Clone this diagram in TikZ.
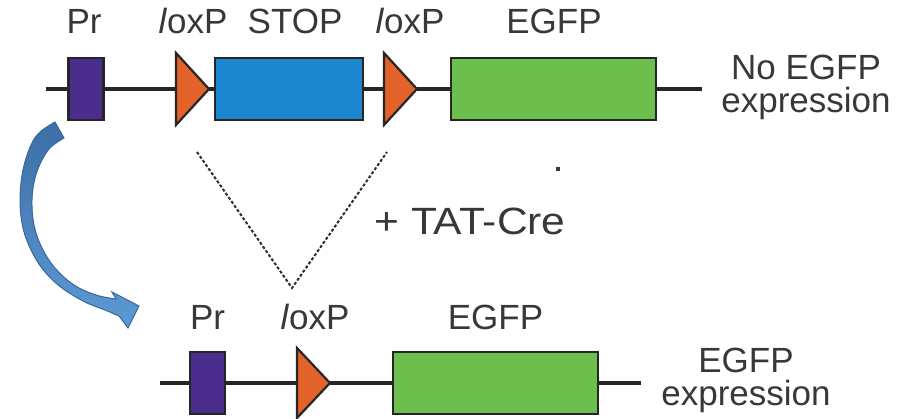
\documentclass[tikz,border=0pt]{standalone}
\usepackage{fontspec}
\setmainfont{Liberation Sans}
\usepackage{xcolor}
\usetikzlibrary{positioning}
\definecolor{ink}{HTML}{383838}
\definecolor{dnaline}{HTML}{262626}
\definecolor{promoter}{HTML}{4B2D8E}
\definecolor{loxorange}{HTML}{E2622A}
\definecolor{stopblue}{HTML}{1C87CF}
\definecolor{egfpgreen}{HTML}{6CBF4C}
\definecolor{arrowtop}{HTML}{3D6EA6}
\definecolor{arrowbot}{HTML}{5C9AD4}
\definecolor{arrowedge}{HTML}{3A679C}
\tikzset{
    dna/.style={draw=dnaline,line width=4.5pt},
    element/.style={draw=black!85,line width=2.6pt,inner sep=0pt,
      minimum height=62pt},
    prbox/.style={element,fill=promoter,minimum width=35pt},
    stopbox/.style={element,fill=stopblue,minimum width=148pt},
    genebox/.style={element,fill=egfpgreen,minimum width=205pt},
    loxsite/.style={draw=black!85,fill=loxorange,line width=2.2pt,line join=miter},
    lbl/.style={inner sep=0pt,text=ink,font=\fontsize{35}{33}\selectfont,align=center},
    recomb/.style={draw=ink!80!black,line width=2pt,dash pattern=on 3pt off 2pt},
    bendarrow/.style={top color=arrowtop,bottom color=arrowbot,draw=arrowedge,
      line width=1pt,line join=miter}
}

\begin{document}
\begin{tikzpicture}[x=1pt,y=-1pt]
  \useasboundingbox (0,0) rectangle (900,419);

  % floxed construct
  \draw[dna] (46,89) -- (702,89);
  \node[prbox] (prA) at (86,89) {};
  \node[stopbox] (stop) at (289,89) {};
  \node[genebox] (egfpA) at (553.5,89) {};
  \coordinate (loxA1) at (176,89);
  \coordinate (loxA2) at (384,89);
  \draw[loxsite] (loxA1) ++(0,-36) -- ++(33,36) -- ++(-33,36) -- cycle;
  \draw[loxsite] (loxA2) ++(0,-36) -- ++(33,36) -- ++(-33,36) -- cycle;
  \node[lbl,anchor=base] (prAlbl) at (84,34) {Pr};
  \node[lbl,anchor=base] (loxA1lbl) at (193,34) {\textit{l}oxP};
  \node[lbl,anchor=base] (stoplbl) at (295,34) {STOP};
  \node[lbl,anchor=base] (loxA2lbl) at (410,34) {\textit{l}oxP};
  \node[lbl,anchor=base] (egfpAlbl) at (554,34) {EGFP};
  \node[lbl] (offlbl) at (806,87) {No EGFP\\expression};

  % excision by Cre
  \coordinate (cutL) at (197,152);
  \coordinate (cutR) at (387,152);
  \coordinate (joint) at (292,288);
  \draw[recomb] (cutL) -- (joint) -- (cutR);
  \node[lbl,font=\fontsize{38}{40}\selectfont,anchor=base] (tatcre) at (470,235)
    {\scalebox{1.12}[1]{+ TAT-Cre}};
  \fill[ink] (556,167) rectangle (560,171);

  % recombined construct
  \draw[dna] (160,383) -- (641,383);
  \node[prbox] (prB) at (207.5,383) {};
  \node[genebox] (egfpB) at (495.5,383) {};
  \coordinate (loxB) at (297,383);
  \draw[loxsite] (loxB) ++(0,-35) -- ++(33,35) -- ++(-33,35) -- cycle;
  \node[lbl,above=21pt of prB] (prBlbl) {Pr};
  \node[lbl,anchor=base] (loxBlbl) at (315,330) {\textit{l}oxP};
  \node[lbl,above=21pt of egfpB] (egfpBlbl) {EGFP};
  \node[lbl] (onlbl) at (746,380) {EGFP\\expression};

  % curved block arrow
  \path[bendarrow] plot[smooth,tension=0.6] coordinates {(55,122) (40,132) (31,145)
      (23,170) (20,200) (23,228) (32,252) (45,272) (62,288) (85,302) (105,310) (119,316)}
    -- (128,328) -- (139,306) -- (112,292)
    -- plot[smooth,tension=0.6] coordinates {(116,299) (96,295) (74,285) (55,268)
      (42,248) (34,225) (32,200) (35,178) (42,160) (51,147) (64,138)}
    -- cycle;
\end{tikzpicture}
\end{document}
